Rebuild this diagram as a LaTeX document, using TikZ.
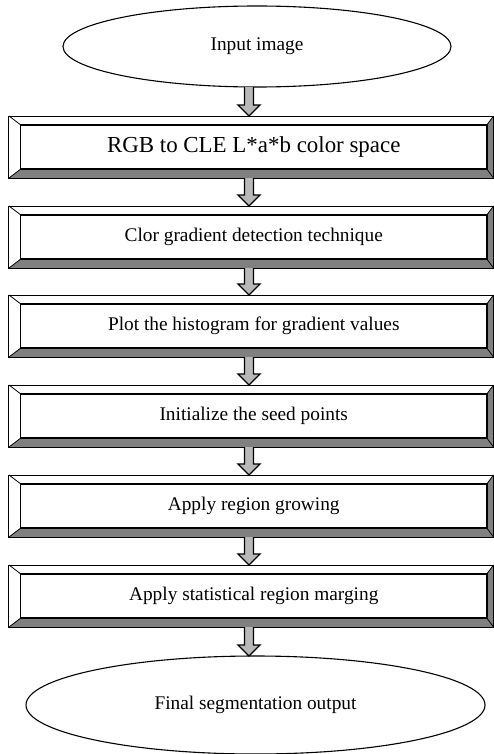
\documentclass[tikz,border=0pt]{standalone}
\usepackage{fontspec}
\setmainfont{Liberation Serif}
\usetikzlibrary{shapes.geometric,calc}
\definecolor{bevgray}{gray}{0.5}
\definecolor{arrgray}{gray}{0.72}
\tikzset{
  txt/.style={font=\fontsize{19.4}{23}\selectfont},
  oval/.style={ellipse, draw, line width=1.1bp, inner sep=0pt, outer sep=0pt, txt},
  outerbox/.style={rectangle, inner sep=0pt, outer sep=0pt, minimum width=484.5bp, minimum height=62bp},
  innerbox/.style={rectangle, inner sep=0pt, outer sep=0pt, minimum width=466.5bp, minimum height=44.5bp, txt},
  outerline/.style={draw, line width=1bp},
  innerline/.style={draw, line width=1.6bp},
  diag/.style={draw, line width=0.8bp},
  blockarr/.style={draw, fill=arrgray, line width=1.3bp, line join=miter},
}
\newcommand\bevbox[4][]{% [font] name, y, text
  \node[outerbox] (#2) at (251.25,#3) {};
  \node[innerbox,#1] (#2i) at (253.75,#3) {#4};
  \fill[bevgray] (#2.south west) -- (#2.south east) -- (#2i.south east) -- (#2i.south west) -- cycle;
  \fill[bevgray] (#2.south east) -- (#2.north east) -- (#2i.north east) -- (#2i.south east) -- cycle;
  \draw[diag] (#2.north west) -- (#2i.north west);
  \draw[diag] (#2.north east) -- (#2i.north east);
  \draw[diag] (#2.south west) -- (#2i.south west);
  \draw[diag] (#2.south east) -- (#2i.south east);
  \draw[outerline] (#2.north west) rectangle (#2.south east);
  \draw[innerline] (#2i.north west) rectangle (#2i.south east);
}
\newcommand\blockarrow[2]{%
  \draw[blockarr] let \p1=(ax |- #1.south), \p2=(ax |- #2.north) in
    (\x1-4.5bp,\y1) -- (\x1-4.5bp,\y2+11bp) -- (\x1-11bp,\y2+11bp) -- (\x1,\y2)
    -- (\x1+11bp,\y2+11bp) -- (\x1+4.5bp,\y2+11bp) -- (\x1+4.5bp,\y1);
}
\begin{document}
\begin{tikzpicture}[x=1bp,y=-1bp]
  \useasboundingbox (0,0) rectangle (494,754);
  \coordinate (ax) at (249,0);
  \node[oval, minimum width=388bp, minimum height=81bp] (in) at (257,46.5) {Input image};
  \bevbox[font=\fontsize{23}{27}\selectfont]{b1}{147}{RGB to CLE L*a*b color space}
  \bevbox{b2}{237}{Clor gradient detection technique}
  \bevbox{b3}{326}{Plot the histogram for gradient values}
  \bevbox{b4}{416}{Initialize the seed points}
  \bevbox{b5}{506}{Apply region growing}
  \bevbox{b6}{596}{Apply statistical region marging}
  \node[oval, minimum width=459bp, minimum height=98bp] (out) at (255.5,705) {Final segmentation output};
  \blockarrow{in}{b1}
  \blockarrow{b1}{b2}
  \blockarrow{b2}{b3}
  \blockarrow{b3}{b4}
  \blockarrow{b4}{b5}
  \blockarrow{b5}{b6}
  \blockarrow{b6}{out}
\end{tikzpicture}
\end{document}
